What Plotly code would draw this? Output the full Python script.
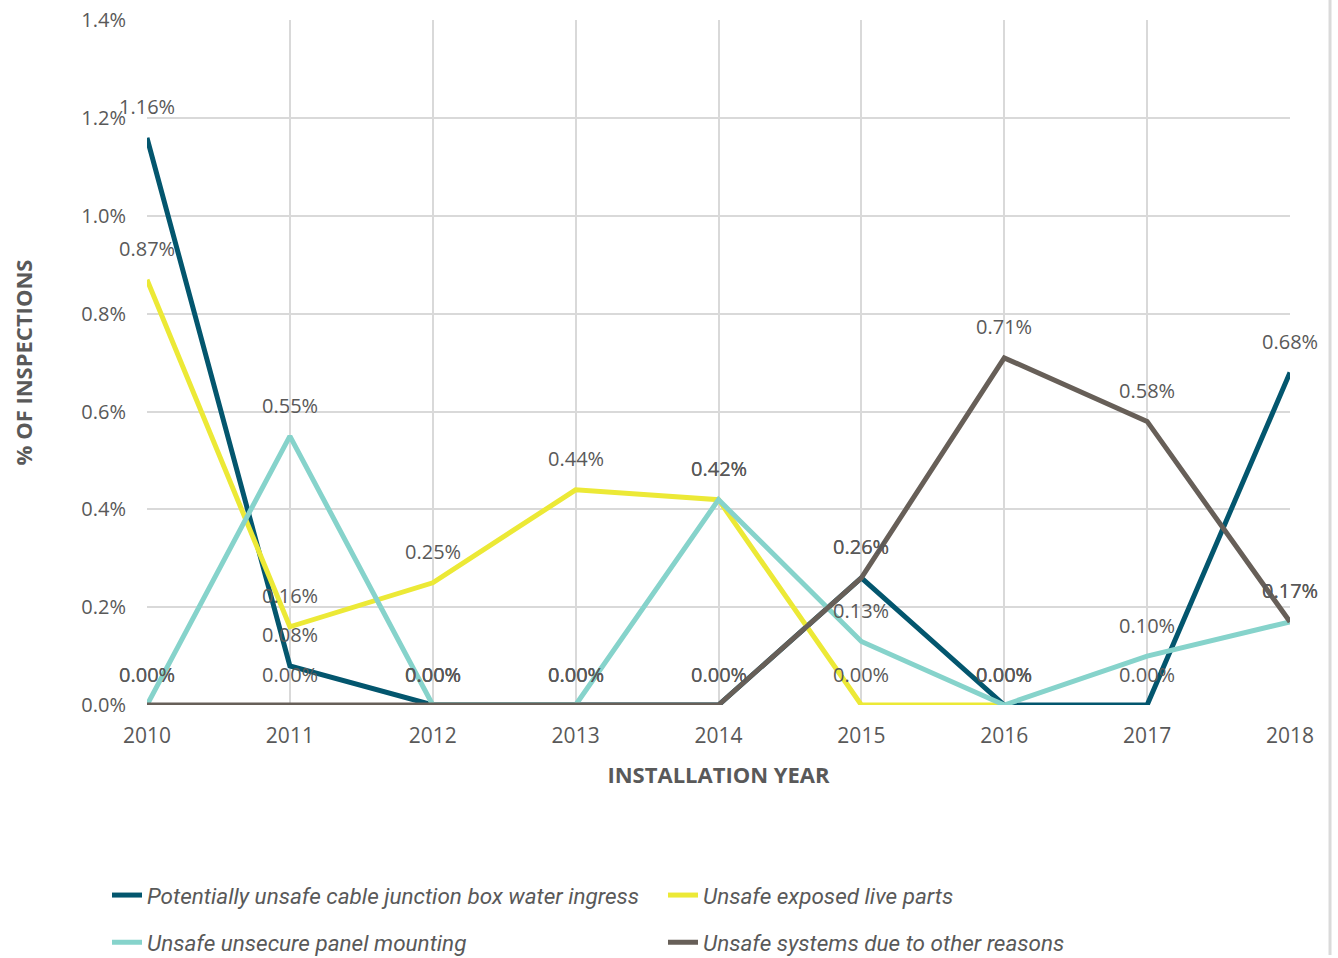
import plotly.graph_objects as go

years = [2010, 2011, 2012, 2013, 2014, 2015, 2016, 2017, 2018]
junction_box = [1.16, 0.08, 0.00, 0.00, 0.00, 0.26, 0.00, 0.00, 0.68]
live_parts = [0.87, 0.16, 0.25, 0.44, 0.42, 0.00, 0.00, None, None]
panel_mounting = [0.00, 0.55, 0.00, 0.00, 0.42, 0.13, 0.00, 0.10, 0.17]
other_reasons = [0.00, 0.00, 0.00, 0.00, 0.00, 0.26, 0.71, 0.58, 0.17]
y_ticks = [0.0, 0.2, 0.4, 0.6, 0.8, 1.0, 1.2, 1.4]
y_tick_labels = ["0.0%", "0.2%", "0.4%", "0.6%", "0.8%", "1.0%", "1.2%", "1.4%"]

names = [
    "Potentially unsafe cable junction box water ingress",
    "Unsafe exposed live parts",
    "Unsafe unsecure panel mounting",
    "Unsafe systems due to other reasons",
]
colors = ["#03566e", "#ece936", "#86d3cb", "#675f58"]
series = [junction_box, live_parts, panel_mounting, other_reasons]
legends = ["legend", "legend", "legend2", "legend2"]

TXT = "#595959"
FONT = "Open Sans"
LFONT = dict(family="Roboto", size=22.5, color=TXT, style="italic")

fig = go.Figure()
for name, col, vals, lg in zip(names, colors, series, legends):
    fig.add_trace(go.Scatter(
        x=years, y=vals, name=name, mode="lines",
        line=dict(color=col, width=5),
        legend=lg,
        cliponaxis=False,
    ))
    # data labels
    for xv, yv in zip(years, vals):
        if yv is None:
            continue
        fig.add_annotation(x=xv, y=yv, xref="x", yref="y", text=f"{yv:.2f}%",
                           showarrow=False, yshift=31, yanchor="middle",
                           font=dict(family=FONT, size=20, color=TXT))

fig.add_shape(type="line", xref="paper", yref="paper",
              x0=1.035, x1=1.035, y0=-0.365, y1=1.03,
              line=dict(color="#dadada", width=3))

fig.update_layout(
    width=1338, height=958,
    margin=dict(l=147, r=48, t=20, b=253, autoexpand=False),
    paper_bgcolor="white", plot_bgcolor="white",
    font=dict(family=FONT, color=TXT),
    showlegend=True,
    legend=dict(orientation="h", x=-0.035, y=-0.278, xanchor="left", yanchor="middle",
                entrywidth=511, entrywidthmode="pixels", font=LFONT),
    legend2=dict(orientation="h", x=-0.035, y=-0.347, xanchor="left", yanchor="middle",
                 entrywidth=511, entrywidthmode="pixels", font=LFONT),
    xaxis=dict(
        range=[2010, 2018], tickvals=years, ticktext=[str(y) for y in years],
        showgrid=True, gridcolor="#d9d9d9", gridwidth=2,
        zeroline=False, showline=False,
        tickfont=dict(family=FONT, size=21, color=TXT),
        ticklabelstandoff=16,
        title=dict(text="<b>INSTALLATION YEAR</b>", font=dict(family=FONT, size=22, color=TXT), standoff=19),
    ),
    yaxis=dict(
        range=[0, 1.401], tickvals=y_ticks, ticktext=y_tick_labels,
        showgrid=True, gridcolor="#d9d9d9", gridwidth=2,
        zeroline=False, showline=False,
        tickfont=dict(family=FONT, size=20, color=TXT),
        ticklabelstandoff=20,
        title=dict(text="<b>% OF INSPECTIONS</b>", font=dict(family=FONT, size=22, color=TXT), standoff=42),
    ),
)

fig.write_html("out.html")
